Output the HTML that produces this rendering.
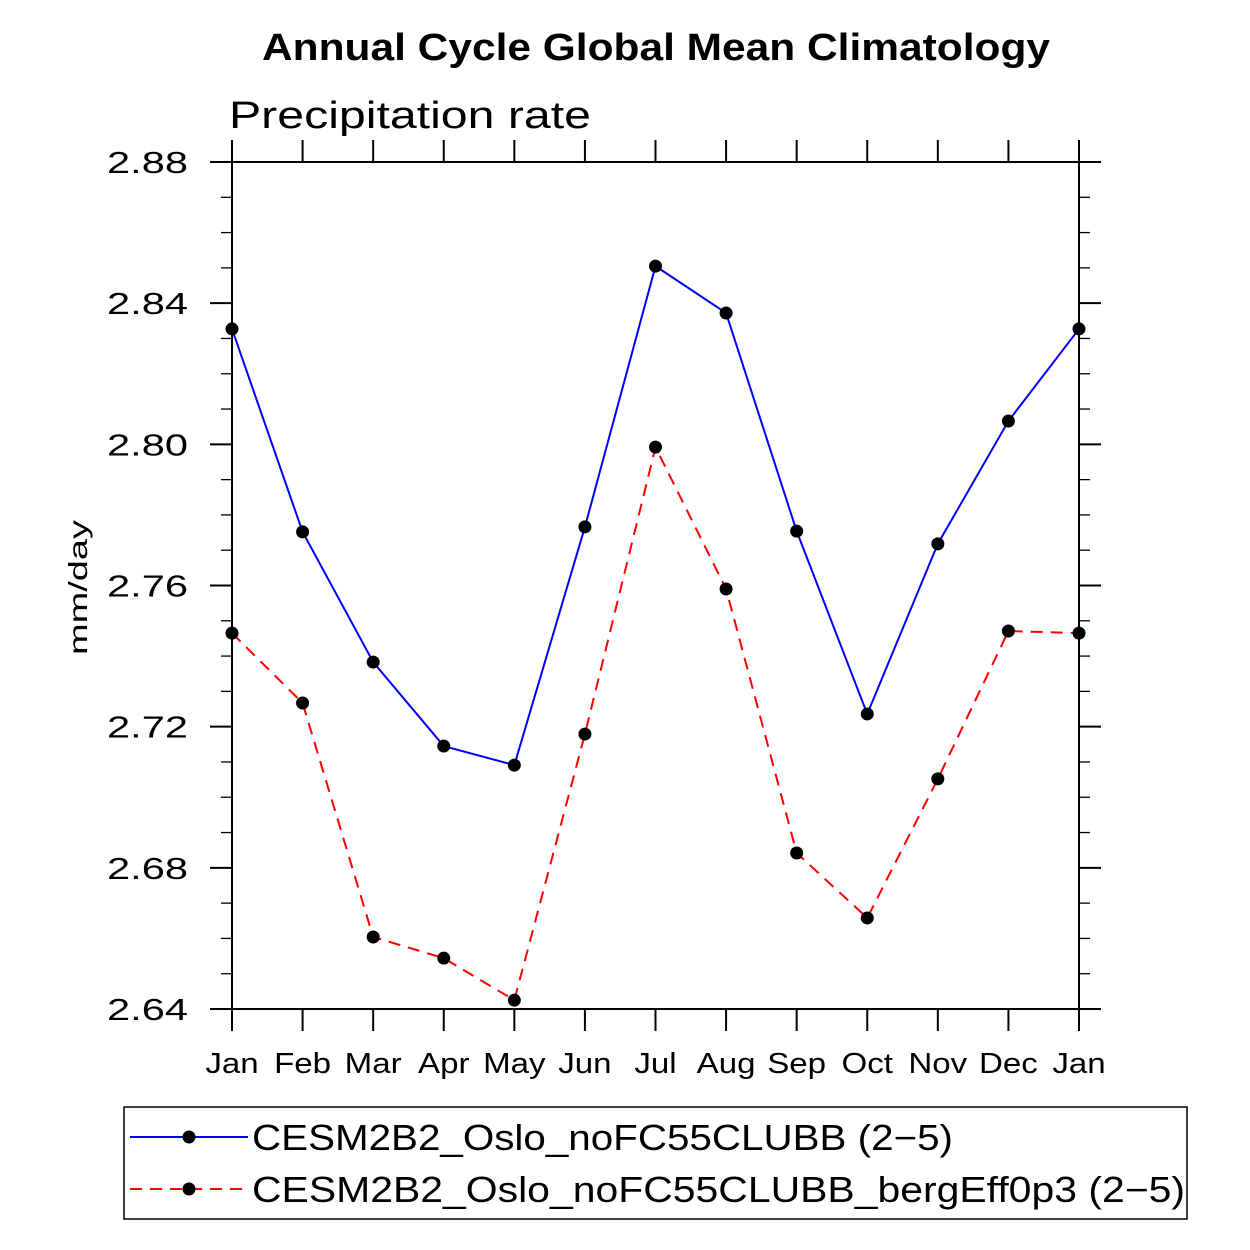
<!DOCTYPE html>
<html><head><meta charset="utf-8"><style>
body{margin:0;background:#fff}
svg{display:block;font-family:"Liberation Sans",sans-serif}
</style></head><body>
<svg id="chart" width="1250" height="1250" viewBox="0 0 1250 1250">
<rect width="1250" height="1250" fill="#fff"/>
<text x="262" y="60" font-size="38" font-weight="bold" textLength="788" lengthAdjust="spacingAndGlyphs">Annual Cycle Global Mean Climatology</text>
<text x="229" y="128" font-size="38" textLength="362" lengthAdjust="spacingAndGlyphs">Precipitation rate</text>
<text transform="translate(87,655) rotate(-90)" font-size="26" textLength="135" lengthAdjust="spacingAndGlyphs">mm/day</text>
<g id="axes"></g>
<g id="series"></g>
<g>
<rect x="124" y="1107" width="1063" height="112" fill="none" stroke="#000" stroke-width="1.5"/>
<line x1="130" y1="1137" x2="248" y2="1137" stroke="#0000ff" stroke-width="2"/>
<circle cx="189" cy="1137" r="6.5" fill="#000"/>
<text x="252" y="1150" font-size="36" textLength="701" lengthAdjust="spacingAndGlyphs">CESM2B2_Oslo_noFC55CLUBB (2−5)</text>
<line x1="130" y1="1189" x2="248" y2="1189" stroke="#ff0000" stroke-width="2" stroke-dasharray="12,8"/>
<circle cx="189" cy="1189" r="6.5" fill="#000"/>
<text x="252" y="1202" font-size="36" textLength="933" lengthAdjust="spacingAndGlyphs">CESM2B2_Oslo_noFC55CLUBB_bergEff0p3 (2−5)</text>
</g>
</svg>
<script>
const months=["Jan","Feb","Mar","Apr","May","Jun","Jul","Aug","Sep","Oct","Nov","Dec","Jan"];
const blueValues=[2.8327,2.7752,2.7383,2.7145,2.7091,2.7766,2.8505,2.8372,2.7754,2.7236,2.7718,2.8066,2.8327];
const redValues=[2.7465,2.7267,2.6604,2.6544,2.6425,2.7179,2.7992,2.7590,2.6842,2.6658,2.7052,2.7471,2.7465];
const yTicks=[2.64,2.68,2.72,2.76,2.80,2.84,2.88];
const yMin=2.64,yMax=2.88;
const X0=232,X1=1079,Y0=1009,Y1=162;
const NS="http://www.w3.org/2000/svg";
function xs(i){return X0+(X1-X0)*i/(months.length-1);}
function ys(v){return Y0-(v-yMin)/(yMax-yMin)*(Y0-Y1);}
function mk(t,a,p){const e=document.createElementNS(NS,t);for(const k in a)e.setAttribute(k,a[k]);p.appendChild(e);return e;}
function widen(t,f){const w=t.getComputedTextLength();t.setAttribute('textLength',w*f);t.setAttribute('lengthAdjust','spacingAndGlyphs');}
const ax=document.getElementById('axes');
const frame=mk('rect',{x:X0,y:Y1,width:X1-X0,height:Y0-Y1,fill:'none',stroke:'#000','stroke-width':2},ax);


months.forEach((m,i)=>{const x=xs(i);
mk('line',{x1:x,y1:Y0,x2:x,y2:Y0+22,stroke:'#000','stroke-width':2},ax);
mk('line',{x1:x,y1:Y1,x2:x,y2:Y1-22,stroke:'#000','stroke-width':2},ax);
const t=mk('text',{x:x,y:1073,'text-anchor':'middle','font-size':29},ax);t.textContent=m;


widen(t,1.14);});
for(let k=0;k<=24;k++){const v=yMin+k*0.01;const y=ys(v);const major=k%4===0;const L=major?22:11;
mk('line',{x1:X0-L,y1:y,x2:X0,y2:y,stroke:'#000','stroke-width':major?2:1.3},ax);
mk('line',{x1:X1,y1:y,x2:X1+L,y2:y,stroke:'#000','stroke-width':major?2:1.3},ax);}
yTicks.forEach(v=>{const t=mk('text',{x:188,y:ys(v)+11,'text-anchor':'end','font-size':31,textLength:81,lengthAdjust:'spacingAndGlyphs'},ax);t.textContent=v.toFixed(2);

});
const sg=document.getElementById('series');
function series(vals,color,dash,name){
const p=mk('polyline',{points:vals.map((v,i)=>xs(i)+','+ys(v)).join(' '),fill:'none',stroke:color,'stroke-width':2,'stroke-dasharray':dash},sg);


vals.forEach((v,i)=>{const c=mk('circle',{cx:xs(i),cy:ys(v),r:6.5,fill:'#000'},sg);

});}
series(blueValues,'#0000ff','none','blue-series');
series(redValues,'#ff0000','12,8','red-series');
</script>
</body></html>
